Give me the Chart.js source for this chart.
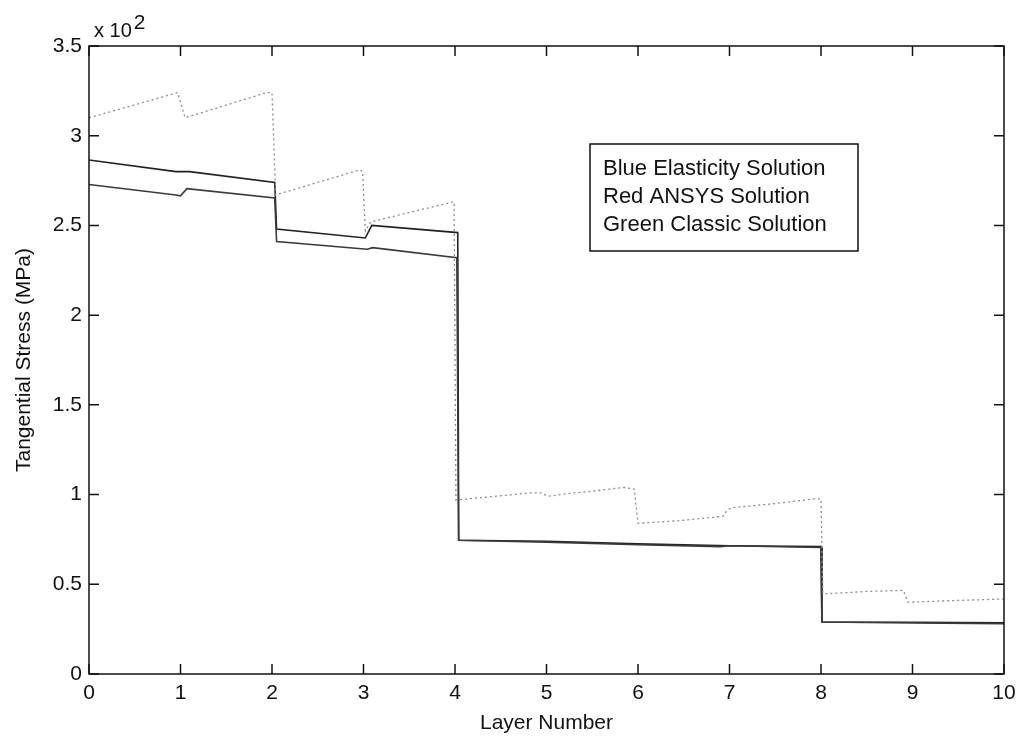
<!DOCTYPE html>
<html>
<head>
<meta charset="utf-8">
<script src="https://cdn.jsdelivr.net/npm/chart.js@4.4.1/dist/chart.umd.min.js"></script>
<style>
  html, body { margin: 0; padding: 0; background: #fff; }
  #wrap { width: 1017px; height: 739px; }
</style>
</head>
<body>
<div id="wrap"><canvas id="stress" width="1017" height="739"></canvas></div>
<script>
// stress values are in units of 10^2 MPa
const elasticityX = [0, 0.95, 1.1, 2.03, 2.05, 3.02, 3.09, 4.03, 4.04, 5, 6, 7, 8.0, 8.01, 9, 10];
const elasticityY = [2.865, 2.80, 2.80, 2.74, 2.48, 2.43, 2.50, 2.46, 0.745, 0.74, 0.725, 0.715, 0.71, 0.29, 0.288, 0.285];

const ansysX = [0, 0.95, 1.0, 1.07, 2.03, 2.05, 3.04, 3.1, 4.02, 4.04, 5, 6, 6.9, 7.0, 8.0, 8.01, 9, 10];
const ansysY = [2.728, 2.67, 2.665, 2.705, 2.653, 2.41, 2.367, 2.376, 2.32, 0.745, 0.735, 0.72, 0.71, 0.715, 0.705, 0.29, 0.285, 0.28];

const classicX = [0, 0.97, 1.05, 1.94, 2.0, 2.04, 2.96, 2.99, 3.02, 3.08, 3.97, 3.99, 4.01,
                  4.39, 4.83, 4.95, 5.01, 5.23, 5.52, 5.85, 5.96, 6.0, 6.47, 6.93, 6.97, 7.02, 7.5, 7.93,
                  8.0, 8.02, 8.05, 8.5, 8.9, 8.95, 9.5, 10];
const classicY = [3.10, 3.24, 3.10, 3.24, 3.24, 2.67, 2.81, 2.80, 2.47, 2.52, 2.63, 2.63, 0.97,
                  0.988, 1.01, 1.01, 0.99, 1.005, 1.02, 1.04, 1.03, 0.84, 0.855, 0.88, 0.91, 0.926, 0.95, 0.976,
                  0.975, 0.45, 0.447, 0.46, 0.466, 0.40, 0.41, 0.418];

const xTicks = [0, 1, 2, 3, 4, 5, 6, 7, 8, 9, 10];
const yTicks = [0, 0.5, 1, 1.5, 2, 2.5, 3, 3.5];
const noteLines = ['Blue Elasticity Solution', 'Red ANSYS Solution', 'Green Classic Solution'];

const FONT = '"Liberation Sans", Arial, sans-serif';
const INK = '#111';

function toPoints(xs, ys) {
    return xs.map((x, i) => ({ x: x, y: ys[i] }));
}

// frame, inward ticks on all four sides, exponent label and the note box
const decorations = {
    id: 'decorations',
    afterDraw(chart) {
        const { ctx, chartArea: a, scales } = chart;
        const tl = 10;
        ctx.save();
        ctx.strokeStyle = INK;
        ctx.lineWidth = 1.5;
        ctx.strokeRect(a.left, a.top, a.right - a.left, a.bottom - a.top);

        ctx.beginPath();
        xTicks.forEach(v => {
            const px = scales.x.getPixelForValue(v);
            ctx.moveTo(px, a.bottom); ctx.lineTo(px, a.bottom - tl);
            ctx.moveTo(px, a.top); ctx.lineTo(px, a.top + tl);
        });
        yTicks.forEach(v => {
            const py = scales.y.getPixelForValue(v);
            ctx.moveTo(a.left, py); ctx.lineTo(a.left + tl, py);
            ctx.moveTo(a.right, py); ctx.lineTo(a.right - tl, py);
        });
        ctx.stroke();

        // axis multiplier
        ctx.fillStyle = INK;
        ctx.textBaseline = 'alphabetic';
        ctx.textAlign = 'left';
        ctx.font = '20px ' + FONT;
        ctx.fillText('x 10', a.left + 5, a.top - 9);
        const w = ctx.measureText('x 10').width;
        ctx.font = '21px ' + FONT;
        ctx.fillText('2', a.left + 7 + w, a.top - 17);

        // note box
        const bx = 590, by = 144, bw = 268, bh = 107;
        ctx.fillStyle = '#fff';
        ctx.fillRect(bx, by, bw, bh);
        ctx.strokeRect(bx, by, bw, bh);
        ctx.fillStyle = INK;
        ctx.font = '22px ' + FONT;
        ctx.textBaseline = 'middle';
        noteLines.forEach((t, i) => ctx.fillText(t, bx + 13, by + 25 + i * 28));
        ctx.restore();
    }
};

const ctx = document.getElementById('stress').getContext('2d');
new Chart(ctx, {
    type: 'line',
    data: {
        datasets: [
            {
                label: 'Classic',
                data: toPoints(classicX, classicY),
                borderColor: '#8c8c8c',
                borderWidth: 1.3,
                borderDash: [2, 3]
            },
            {
                label: 'ANSYS',
                data: toPoints(ansysX, ansysY),
                borderColor: '#3a3a3a',
                borderWidth: 1.6
            },
            {
                label: 'Elasticity',
                data: toPoints(elasticityX, elasticityY),
                borderColor: '#222',
                borderWidth: 1.6
            }
        ]
    },
    options: {
        responsive: false,
        animation: false,
        events: [],
        parsing: false,
        elements: { point: { radius: 0 }, line: { tension: 0 } },
        layout: { padding: { top: 46, right: 13, left: 0, bottom: 0 } },
        plugins: { legend: { display: false }, tooltip: { enabled: false } },
        scales: {
            x: {
                type: 'linear',
                min: 0, max: 10,
                grid: { display: false, drawTicks: false },
                border: { display: false },
                ticks: {
                    stepSize: 1, padding: 7, color: INK, maxRotation: 0,
                    font: { family: FONT, size: 21 }
                },
                title: {
                    display: true, text: 'Layer Number', color: INK,
                    font: { family: FONT, size: 21 },
                    padding: { top: 0, bottom: 3 }
                },
                afterFit: s => { s.height = 65; s.paddingRight = 0; s.paddingLeft = 0; }
            },
            y: {
                min: 0, max: 3.5,
                grid: { display: false, drawTicks: false },
                border: { display: false },
                ticks: {
                    stepSize: 0.5, padding: 7, color: INK,
                    font: { family: FONT, size: 21 },
                    callback: v => String(v)
                },
                title: {
                    display: true, text: 'Tangential Stress (MPa)', color: INK,
                    font: { family: FONT, size: 21 },
                    padding: { top: 12, bottom: 0 }
                },
                afterFit: s => { s.width = 89; }
            }
        }
    },
    plugins: [decorations]
});
</script>
</body>
</html>
